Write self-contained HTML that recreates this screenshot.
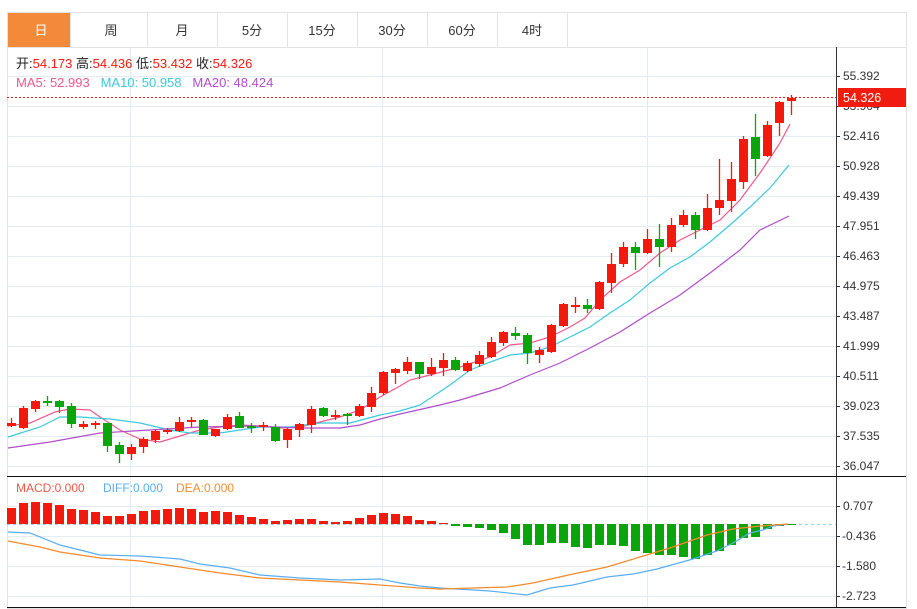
<!DOCTYPE html>
<html><head><meta charset="utf-8">
<style>
body{margin:0;background:#fff;width:917px;height:609px;overflow:hidden;font-family:"Liberation Sans","Noto Sans CJK SC",sans-serif;}
svg{position:absolute;left:0;top:0}
</style></head><body>
<svg id="s" width="917" height="609" viewBox="0 0 917 609" xmlns="http://www.w3.org/2000/svg" font-family="Liberation Sans, Noto Sans CJK SC, sans-serif">
<rect x="7.5" y="12.5" width="899" height="596" fill="none" stroke="#e3e3e3"/>
<line x1="7" y1="47.5" x2="906" y2="47.5" stroke="#e3e3e3"/>
<rect x="8" y="13" width="62" height="34" fill="#f28a3a"/>
<g stroke="#e3e3e3"><line x1="70.5" y1="12" x2="70.5" y2="47"/><line x1="147.5" y1="12" x2="147.5" y2="47"/><line x1="217.5" y1="12" x2="217.5" y2="47"/><line x1="287.5" y1="12" x2="287.5" y2="47"/><line x1="357.5" y1="12" x2="357.5" y2="47"/><line x1="427.5" y1="12" x2="427.5" y2="47"/><line x1="497.5" y1="12" x2="497.5" y2="47"/><line x1="567.5" y1="12" x2="567.5" y2="47"/></g>
<g font-size="13" text-anchor="middle" fill="#333"><text x="41" y="35" fill="#fff">日</text><text x="111" y="35">周</text><text x="182" y="35">月</text><text x="252" y="35">5分</text><text x="322" y="35">15分</text><text x="392" y="35">30分</text><text x="462" y="35">60分</text><text x="532" y="35">4时</text></g>
<g id="grid" stroke="#e3ecf3" stroke-width="1"></g>
<text x="16" y="68" font-size="13" fill="#222">开:<tspan fill="#f01c10">54.173</tspan>  高:<tspan fill="#f01c10">54.436</tspan>  低:<tspan fill="#f01c10">53.432</tspan>  收:<tspan fill="#f01c10">54.326</tspan></text>
<text x="16" y="87" font-size="13" fill="#f0588a" xml:space="preserve">MA5: 52.993   <tspan fill="#3cc8dc">MA10: 50.958</tspan>   <tspan fill="#b04ec8">MA20: 48.424</tspan></text>
<g id="ma"></g>
<g id="c"></g>
<line x1="7" y1="97.5" x2="836" y2="97.5" stroke="#f01c10" stroke-dasharray="2,2"/>
<line x1="7" y1="524.5" x2="836" y2="524.5" stroke="#8fd3ee" stroke-dasharray="3,3"/>
<g id="m"></g>
<line x1="836.5" y1="47" x2="836.5" y2="608" stroke="#333"/>
<line x1="7" y1="476.5" x2="906" y2="476.5" stroke="#111"/>
<line x1="7" y1="607.5" x2="906" y2="607.5" stroke="#111"/>
<g font-size="12" fill="#333" id="ax">
<text x="843" y="80">55.392</text><text x="843" y="110">53.904</text><text x="843" y="140">52.416</text><text x="843" y="170">50.928</text><text x="843" y="200">49.439</text><text x="843" y="230">47.951</text><text x="843" y="260">46.463</text><text x="843" y="290">44.975</text><text x="843" y="320">43.487</text><text x="843" y="350">41.999</text><text x="843" y="380">40.511</text><text x="843" y="410">39.023</text><text x="843" y="440">37.535</text><text x="843" y="470">36.047</text>
<text x="843" y="510">0.707</text><text x="842" y="540">-0.436</text><text x="842" y="570">-1.580</text><text x="842" y="600">-2.723</text>
</g>
<rect x="838" y="88" width="68" height="19" fill="#f01c10"/>
<text x="843" y="102" font-size="12.5" fill="#fff">54.326</text>
<text x="16" y="492" font-size="12" fill="#f0584a">MACD:0.000</text>
<text x="103" y="492" font-size="12" fill="#5aaef0">DIFF:0.000</text>
<text x="176" y="492" font-size="12" fill="#f58a2a">DEA:0.000</text>
</svg>
<script>
(function(){
var NS="http://www.w3.org/2000/svg";
function el(p,t,a){var e=document.createElementNS(NS,t);for(var k in a)e.setAttribute(k,a[k]);document.getElementById(p).appendChild(e);return e;}
var gy=[76,106,136,166,196,226,256,286,316,346,376,406,436,466,506,536,566,596];
gy.forEach(function(y){el("grid","line",{x1:7,x2:836,y1:y+.5,y2:y+.5});el("grid","line",{x1:836,x2:840,y1:y+.5,y2:y+.5,stroke:"#333"});});
[130,382,647].forEach(function(x){el("grid","line",{x1:x+.5,x2:x+.5,y1:48,y2:607});});
var R="#f21a0c",G="#0aa50a";
var C=[["r",423,426,418,427],["r",408,428,406,429],["r",401,409,400,412],["g",401,403,396,406],["g",401,407,400,413],["g",406,424,403,428],["r",424,427,421,429],["r",423,425,421,429],["g",423,446,423,452],["g",445,454,442,463],["r",447,454,444,460],["r",439,447,437,453],["r",431,440,430,443],["r",430,432,428,434],["r",422,431,417,432],["r",420,422,417,427],["g",420,435,419,435],["r",429,436,429,437],["r",417,429,414,430],["g",416,428,412,428],["g",426,427,423,433],["r",425,427,422,431],["g",427,441,424,442],["r",429,440,428,448],["r",424,430,423,437],["r",409,425,406,433],["g",408,416,407,417],["r",415,417,410,420],["g",414,416,413,425],["r",406,416,404,417],["r",393,407,387,412],["r",372,393,371,395],["r",369,373,368,384],["r",362,371,357,374],["g",362,374,362,379],["r",367,374,358,376],["r",360,368,353,376],["g",360,370,357,371],["r",363,371,361,372],["r",355,364,351,367],["r",342,357,337,358],["r",332,343,331,346],["g",333,336,327,340],["g",335,353,333,364],["r",350,355,347,363],["r",325,352,324,353],["r",304,326,303,327],["r",305,307,297,313],["g",305,309,299,313],["r",282,309,281,310],["r",264,283,253,293],["r",247,264,242,267],["g",247,253,242,270],["r",239,253,229,254],["g",239,247,224,267],["r",225,247,218,252],["r",215,225,210,227],["g",215,230,212,239],["r",208,230,194,231],["r",200,208,159,215],["r",179,201,162,212],["r",139,182,136,189],["g",137,159,114,176],["r",125,156,121,157],["r",102,123,101,136],["r",98,101,95,115]];
C.forEach(function(c,i){var x=11+12*i,col=c[0]=="r"?R:G;
el("c","line",{x1:x+.5,x2:x+.5,y1:c[3],y2:c[4],stroke:col,"stroke-width":1.3});
el("c","rect",{x:x-4,y:c[1],width:9,height:Math.max(2,c[2]-c[1]),fill:col});});
function pl(pts,col,w,p){el(p||"ma","polyline",{points:pts.map(function(a){return a.join(",")}).join(" "),fill:"none",stroke:col,"stroke-width":w||1.2});}
pl([[8,426],[30,423],[55,412],[70,409],[90,410],[100,417],[120,430],[140,439],[160,442],[180,436],[200,430],[220,427],[240,425],[260,426],[280,428],[300,427],[320,422],[340,417],[360,410],[380,397],[400,386],[410,380],[430,375],[460,367],[490,357],[510,345],[530,343],[550,337],[570,327],[585,318],[600,300],[620,282],[640,270],[660,253],[680,240],[700,230],[720,220],[740,200],[760,173],[780,143],[790,124]],"#f0588a");
pl([[8,437],[40,427],[60,417],[80,417],[110,419],[140,423],[170,430],[190,433],[220,433],[260,427],[290,427],[320,423],[350,423],[380,415],[400,411],[420,405],[450,385],[470,370],[490,362],[510,355],[530,353],[550,347],[570,337],[590,327],[610,313],[630,300],[650,283],[670,268],[690,257],[710,242],[730,225],[750,207],[770,188],[789,165]],"#3cc8dc");
pl([[8,448],[50,442],[100,433],[150,430],[200,427],[250,426],[300,428],[340,428],[360,425],[380,419],[400,414],[440,405],[460,400],[500,388],[530,375],[560,363],[590,348],[620,332],[650,313],[680,295],[710,273],[740,250],[760,230],[789,216]],"#b04ec8");
var tops=[508,503,502,503,505,509,510,512,516,516,514,511,510,509,508,509,512,511,512,515,517,519,521,520,519,519,521,522,521,518,515,513,514,516,520,521,523];
var bots=[526,527,528,530,533,539,545,545,543,543,547,548,545,545,546,551,553,555,555,557,559,555,551,545,538,537,529,526,525];
tops.forEach(function(t,i){el("m","rect",{x:7+12*i,y:t,width:9,height:524-t,fill:R});});
bots.forEach(function(b,j){var i=j+37;el("m","rect",{x:7+12*i,y:524,width:9,height:b-524,fill:G});});
pl([[8,532],[30,533],[60,545],[100,555],[140,556],[180,559],[200,564],[230,568],[260,575],[300,578],[340,580],[380,579],[400,583],[420,586],[440,588],[490,591],[527,595],[550,588],[573,585],[607,577],[633,574],[657,569],[693,559],[717,551],[733,543],[750,533],[763,530],[773,526],[788,524]],"#5aaef0",1.2,"m");
pl([[8,541],[40,547],[60,552],[100,558],[140,561],[180,567],[220,573],[260,578],[300,580],[340,582],[380,585],[420,588],[440,589],[507,587],[533,583],[573,574],[607,567],[640,557],[673,547],[707,535],[733,529],[760,526],[788,524]],"#f58a2a",1.2,"m");
})();
</script>
</body></html>
